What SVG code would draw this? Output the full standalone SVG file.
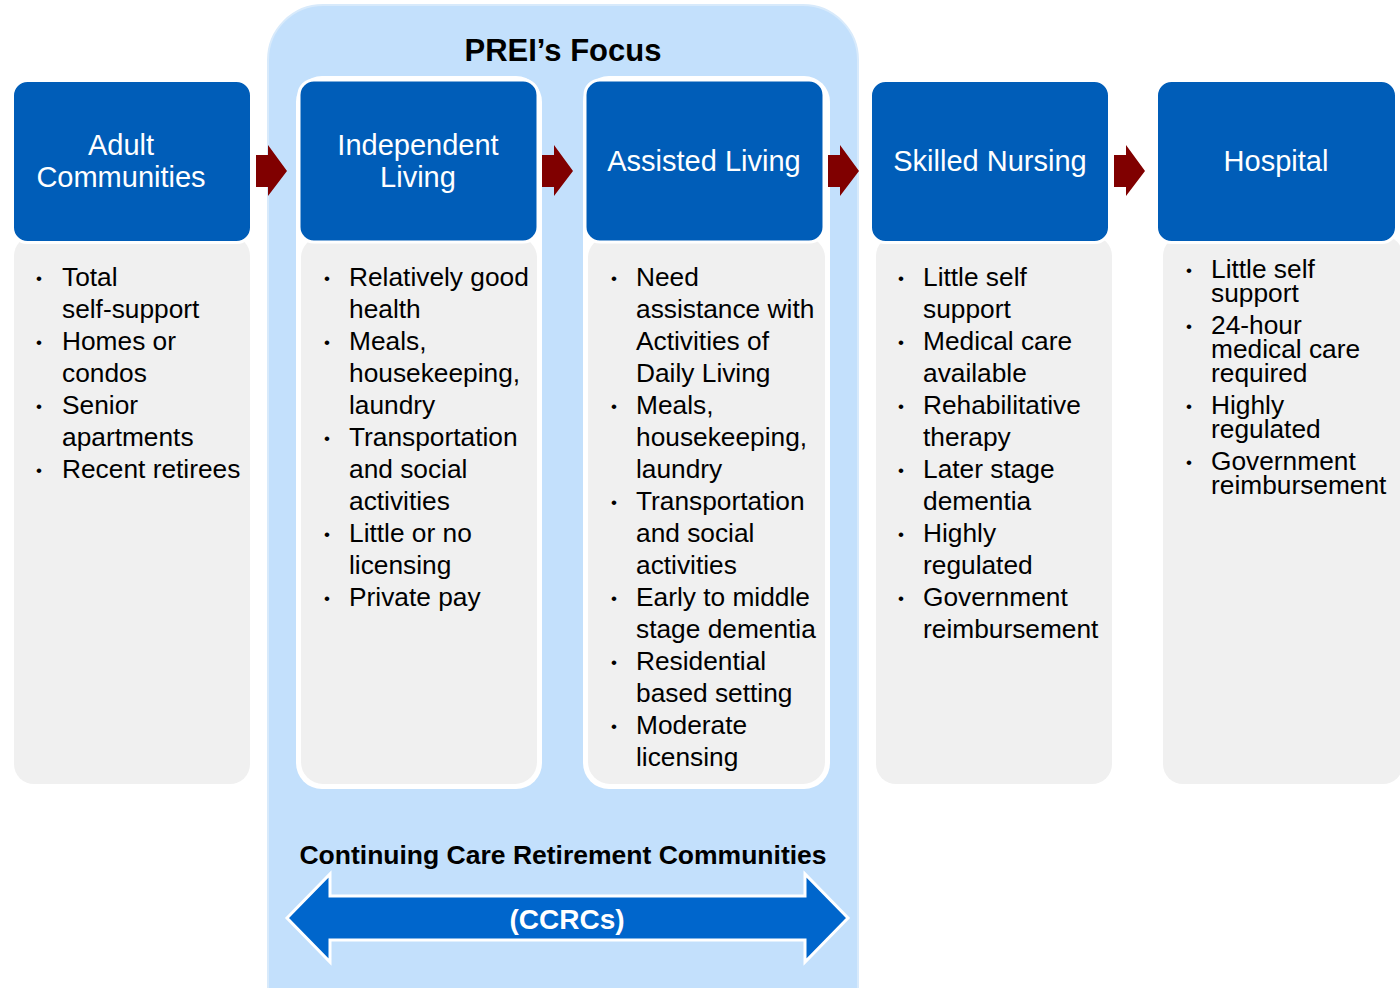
<svg xmlns="http://www.w3.org/2000/svg" width="1400" height="988" viewBox="0 0 1400 988">
<style>
.hdr{fill:#005DB8;stroke:#ffffff;stroke-width:3}
.body{fill:#F0F0F0}
.wb{fill:#ffffff}
.ht{font-family:"Liberation Sans",Arial,sans-serif;font-size:29px;fill:#ffffff;text-anchor:middle}
.bt{font-family:"Liberation Sans",Arial,sans-serif;font-size:26.3px;fill:#000000}
.bl{font-family:"Liberation Sans",Arial,sans-serif;font-size:17px;fill:#000000}
.arr{fill:#800000}
.bold{font-family:"Liberation Sans",Arial,sans-serif;font-weight:bold;text-anchor:middle}
</style>
<rect width="1400" height="988" fill="#ffffff"/>
<g id="prei-focus">
<rect x="268" y="5" width="590" height="1040" rx="55" fill="#C3E0FC" stroke="#D8EAFB" stroke-width="2"/>
<text class="bold" x="563" y="61" font-size="31" fill="#000000">PREI’s Focus</text>
</g>
<g id="adult-communities">
<rect class="body" x="14" y="236" width="236" height="548" rx="20"/>
<rect class="hdr" x="12.5" y="80.5" width="239" height="162" rx="15"/>
<text class="ht" x="121" y="155">Adult</text>
<text class="ht" x="121" y="187">Communities</text>
<g class="bl"><text x="36" y="284">•</text><text x="36" y="348">•</text><text x="36" y="412">•</text><text x="36" y="476">•</text></g>
<g class="bt"><text x="62" y="286">Total</text><text x="62" y="318">self-support</text><text x="62" y="350">Homes or</text><text x="62" y="382">condos</text><text x="62" y="414">Senior</text><text x="62" y="446">apartments</text><text x="62" y="478">Recent retirees</text></g>
</g>
<g id="independent-living">
<rect class="wb" x="296" y="76" width="246" height="713" rx="26"/>
<rect class="body" x="301" y="236" width="236" height="548" rx="22"/>
<rect class="hdr" x="299" y="80" width="239" height="162" rx="15"/>
<text class="ht" x="418" y="155">Independent</text>
<text class="ht" x="418" y="187">Living</text>
<g class="bl"><text x="324" y="284">•</text><text x="324" y="348">•</text><text x="324" y="444">•</text><text x="324" y="540">•</text><text x="324" y="604">•</text></g>
<g class="bt"><text x="349" y="286">Relatively good</text><text x="349" y="318">health</text><text x="349" y="350">Meals,</text><text x="349" y="382">housekeeping,</text><text x="349" y="414">laundry</text><text x="349" y="446">Transportation</text><text x="349" y="478">and social</text><text x="349" y="510">activities</text><text x="349" y="542">Little or no</text><text x="349" y="574">licensing</text><text x="349" y="606">Private pay</text></g>
</g>
<g id="assisted-living">
<rect class="wb" x="583" y="76" width="247" height="713" rx="26"/>
<rect class="body" x="588" y="236" width="237" height="548" rx="22"/>
<rect class="hdr" x="585" y="80" width="239" height="162" rx="15"/>
<text class="ht" x="704" y="171">Assisted Living</text>
<g class="bl"><text x="611" y="284">•</text><text x="611" y="412">•</text><text x="611" y="508">•</text><text x="611" y="604">•</text><text x="611" y="668">•</text><text x="611" y="732">•</text></g>
<g class="bt"><text x="636" y="286">Need</text><text x="636" y="318">assistance with</text><text x="636" y="350">Activities of</text><text x="636" y="382">Daily Living</text><text x="636" y="414">Meals,</text><text x="636" y="446">housekeeping,</text><text x="636" y="478">laundry</text><text x="636" y="510">Transportation</text><text x="636" y="542">and social</text><text x="636" y="574">activities</text><text x="636" y="606">Early to middle</text><text x="636" y="638">stage dementia</text><text x="636" y="670">Residential</text><text x="636" y="702">based setting</text><text x="636" y="734">Moderate</text><text x="636" y="766">licensing</text></g>
</g>
<g id="skilled-nursing">
<rect class="body" x="876" y="236" width="236" height="548" rx="20"/>
<rect class="hdr" x="870.5" y="80.5" width="239" height="162" rx="15"/>
<text class="ht" x="990" y="171">Skilled Nursing</text>
<g class="bl"><text x="898" y="284">•</text><text x="898" y="348">•</text><text x="898" y="412">•</text><text x="898" y="476">•</text><text x="898" y="540">•</text><text x="898" y="604">•</text></g>
<g class="bt"><text x="923" y="286">Little self</text><text x="923" y="318">support</text><text x="923" y="350">Medical care</text><text x="923" y="382">available</text><text x="923" y="414">Rehabilitative</text><text x="923" y="446">therapy</text><text x="923" y="478">Later stage</text><text x="923" y="510">dementia</text><text x="923" y="542">Highly</text><text x="923" y="574">regulated</text><text x="923" y="606">Government</text><text x="923" y="638">reimbursement</text></g>
</g>
<g id="hospital">
<rect class="body" x="1163" y="236" width="240" height="548" rx="20"/>
<rect class="hdr" x="1156.5" y="80.5" width="240" height="162" rx="15"/>
<text class="ht" x="1276" y="171">Hospital</text>
<g class="bl"><text x="1186" y="276">•</text><text x="1186" y="332">•</text><text x="1186" y="412">•</text><text x="1186" y="468">•</text></g>
<g class="bt"><text x="1211" y="278">Little self</text><text x="1211" y="302">support</text><text x="1211" y="334">24-hour</text><text x="1211" y="358">medical care</text><text x="1211" y="382">required</text><text x="1211" y="414">Highly</text><text x="1211" y="438">regulated</text><text x="1211" y="470">Government</text><text x="1211" y="494">reimbursement</text></g>
</g>
<g id="connectors">
<polygon class="arr" points="256,155 268,155 268,145 287,171 268,196 268,187 256,187"/>
<polygon class="arr" points="542,155 554,155 554,145 573,171 554,196 554,187 542,187"/>
<polygon class="arr" points="828,155 840,155 840,145 859,171 840,196 840,187 828,187"/>
<polygon class="arr" points="1114,155 1126,155 1126,145 1145,171 1126,196 1126,187 1114,187"/>
</g>
<g id="ccrcs">
<text class="bold" x="563" y="864" font-size="26.5" fill="#000000">Continuing Care Retirement Communities</text>
<polygon points="287,918 330,874 330,896 805,896 805,874 848,918 805,962 805,940 330,940 330,962" fill="#0066CC" stroke="#ffffff" stroke-width="3" stroke-linejoin="miter"/>
<text class="bold" x="567" y="929" font-size="28" fill="#ffffff">(CCRCs)</text>
</g>
</svg>
